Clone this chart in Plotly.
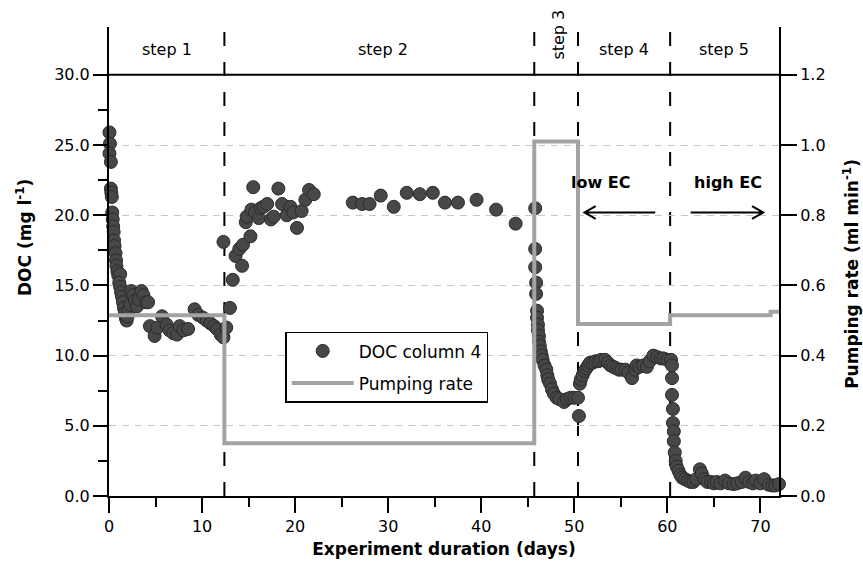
import plotly.graph_objects as go

# ---------------- data ----------------
doc_days = [
    # step 1
    0.05, 0.1, 0.05, 0.2, 0.2, 0.25, 0.3, 0.35, 0.4, 0.45, 0.5, 0.55, 0.6, 0.7, 0.75, 0.8, 0.9, 1.0, 1.2, 1.1,
    1.2, 1.3, 1.4, 1.5, 1.6, 1.7, 1.8, 1.9, 2.0, 2.1, 2.3, 2.4, 2.6, 2.8, 3.0, 3.2, 3.5, 3.7, 4.0, 4.2,
    4.4, 4.9, 5.2, 5.7, 6.2, 6.5, 6.9, 7.3, 7.6, 8.0, 8.5, 9.2, 9.6, 10.1, 10.5, 10.9, 11.3, 11.6, 12.0, 12.3, 12.6,
    # step 2
    12.3, 13.0, 13.3, 13.6, 14.0, 14.3, 14.4, 14.7, 14.8, 15.2, 15.3, 15.5, 15.7, 16.1, 16.3, 16.6, 17.0, 17.4,
    17.7, 18.2, 18.6, 19.1, 19.5, 19.8, 20.2, 20.7, 21.1, 21.5, 22.0,
    26.2, 27.2, 28.0, 29.2, 30.6, 32.0, 33.4, 34.8, 36.1, 37.5, 39.5, 41.6, 43.7, 45.8,
    # step 3
    45.8, 45.8, 45.9, 45.9, 46.0, 46.0, 46.1, 46.1, 46.2, 46.2, 46.3, 46.4, 46.5, 46.6, 46.8, 47.0, 47.1, 47.2,
    47.4, 47.6, 47.8, 48.1, 48.4, 48.9, 49.2, 49.6, 50.0, 50.4, 50.5,
    # step 4
    50.6, 50.7, 50.9, 51.1, 51.3, 51.5, 51.7, 52.0, 52.3, 52.6, 52.9, 53.3, 53.6, 53.9, 54.2, 54.5, 54.8, 55.1,
    55.5, 55.8, 56.2, 56.5, 56.7, 57.0, 57.4, 57.8, 58.1, 58.5, 58.9, 59.3, 59.6, 60.0, 60.4,
    # step 5
    60.5, 60.5, 60.5, 60.6, 60.6, 60.7, 60.7, 60.8, 60.9, 61.0, 61.2, 61.4, 61.6, 61.9, 62.2, 62.5, 62.8, 63.1,
    63.5, 63.7, 64.0, 64.3, 64.7, 65.0, 65.3, 65.7, 66.2, 66.6, 67.1, 67.5, 68.0, 68.4, 68.8, 69.2, 69.5, 70.0,
    70.4, 70.9, 71.3, 71.6, 72.0,
]
doc_vals = [
    # step 1
    25.9, 25.1, 24.4, 23.8, 21.9, 21.6, 21.3, 20.2, 19.7, 19.2, 18.8, 18.2, 17.8, 17.3, 16.8, 16.4, 16.0, 15.7, 15.8, 15.2,
    14.9, 14.5, 14.2, 13.8, 13.4, 13.0, 12.7, 12.5, 12.8, 13.2, 13.6, 14.6, 14.3, 13.9, 13.5, 14.0, 14.6, 14.3, 13.8, 13.8,
    12.1, 11.4, 12.0, 12.8, 12.2, 11.8, 11.6, 11.5, 12.1, 11.8, 11.9, 13.3, 12.9, 12.7, 12.5, 12.3, 12.1, 11.9, 11.5, 11.3, 12.0,
    # step 2
    18.1, 13.4, 15.4, 17.1, 17.6, 16.4, 17.9, 19.5, 19.9, 18.5, 20.4, 22.0, 20.2, 19.8, 20.5, 20.6, 20.8, 19.7,
    19.9, 21.9, 20.8, 20.0, 20.6, 20.2, 19.1, 20.3, 21.1, 21.8, 21.5,
    20.9, 20.8, 20.8, 21.4, 20.6, 21.6, 21.5, 21.6, 20.9, 20.9, 21.1, 20.4, 19.4, 20.5,
    # step 3
    17.6, 16.3, 15.2, 14.4, 13.2, 12.7, 12.2, 11.8, 11.4, 11.0, 10.7, 10.3, 10.0, 9.7, 9.3, 9.0, 8.6, 8.3,
    8.0, 7.6, 7.3, 7.0, 6.9, 6.7, 6.9, 7.0, 7.0, 7.0, 5.7,
    # step 4
    8.0, 8.3, 8.6, 8.9, 9.1, 9.3, 9.5, 9.5, 9.6, 9.6, 9.7, 9.7, 9.5, 9.3, 9.2, 9.1, 9.0, 9.0,
    9.0, 8.8, 8.4, 9.0, 9.3, 9.2, 9.3, 9.2, 9.6, 10.0, 9.9, 9.8, 9.8, 9.7, 9.7,
    # step 5
    9.3, 8.4, 7.2, 6.2, 5.2, 4.6, 3.9, 3.1, 2.5, 2.1, 1.8, 1.5, 1.3, 1.2, 1.1, 1.0, 1.0, 1.2,
    1.9, 1.6, 1.2, 1.0, 1.0, 0.9, 1.0, 0.9, 1.1, 0.9, 0.85, 0.9, 1.0, 1.3, 1.0, 0.9, 1.1, 0.9,
    1.2, 0.8, 0.75, 0.75, 0.85,
]

pump_days = [0, 12.4, 45.7, 50.4, 60.3, 71.1, 72.0]
pump_rate = [0.515, 0.15, 1.01, 0.49, 0.515, 0.525, 0.525]

step_bounds = [12.4, 45.7, 50.4, 60.3]
step_labels = ["step 1", "step 2", "step 3", "step 4", "step 5"]
step_label_x = [6.2, 29.4, 48.3, 55.3, 66.1]

x_ticks = [0, 10, 20, 30, 40, 50, 60, 70]
x_minor = [5, 15, 25, 35, 45, 55, 65]
y_ticks = [0, 5, 10, 15, 20, 25, 30]
y_minor = [2.5, 7.5, 12.5, 17.5, 22.5, 27.5]
y2_ticks = [0, 0.2, 0.4, 0.6, 0.8, 1.0, 1.2]

FONT = "DejaVu Sans"

fig = go.Figure()
fig.add_trace(go.Scatter(
    x=doc_days, y=doc_vals, mode="markers", name="DOC column 4",
    legendgroup="a",
    marker=dict(size=13, color="#474747", line=dict(color="#2b2b2b", width=1)),
    cliponaxis=False,
))
fig.add_trace(go.Scatter(
    x=pump_days, y=pump_rate, mode="lines", name="Pumping rate", yaxis="y2",
    legendgroup="b",
    line=dict(color="#a3a3a3", width=4, shape="hv"),
))

shapes = []
for b in step_bounds:
    shapes.append(dict(type="line", xref="x", yref="paper", x0=b, x1=b, y0=0, y1=1,
                       line=dict(color="black", width=2, dash="14px,16px"), layer="between"))
shapes.append(dict(type="line", xref="paper", yref="y", x0=0, x1=1, y0=30, y1=30,
                   line=dict(color="black", width=2), layer="above"))

# EC direction arrows (line + open head), in data units
arrow_y = 20.2
hx, hy = 1.2, 0.45  # head length (days) and half-height (mg/l)
left_tail, left_head = 58.7, 51.1
right_tail, right_head = 62.5, 70.3
shapes.append(dict(type="path", xref="x", yref="y",
                   path=(f"M{left_tail},{arrow_y} L{left_head},{arrow_y} "
                         f"M{left_head + hx},{arrow_y + hy} L{left_head},{arrow_y} L{left_head + hx},{arrow_y - hy}"),
                   line=dict(color="black", width=2), layer="above"))
shapes.append(dict(type="path", xref="x", yref="y",
                   path=(f"M{right_tail},{arrow_y} L{right_head},{arrow_y} "
                         f"M{right_head - hx},{arrow_y + hy} L{right_head},{arrow_y} L{right_head - hx},{arrow_y - hy}"),
                   line=dict(color="black", width=2), layer="above"))

annotations = []
for lab, lx in zip(step_labels, step_label_x):
    if lab == "step 3":
        annotations.append(dict(x=lx, y=32.9, xref="x", yref="y", text=lab, showarrow=False,
                                textangle=-90, font=dict(family=FONT, size=16, color="black")))
    else:
        annotations.append(dict(x=lx, y=31.8, xref="x", yref="y", text=lab, showarrow=False,
                                font=dict(family=FONT, size=16, color="black")))

annotations.append(dict(x=52.9, y=22.3, xref="x", yref="y", text="<b>low EC</b>", showarrow=False,
                        font=dict(family=FONT, size=16, color="black")))
annotations.append(dict(x=66.5, y=22.3, xref="x", yref="y", text="<b>high EC</b>", showarrow=False,
                        font=dict(family=FONT, size=16, color="black")))

annotations.append(dict(x=-0.127, y=0.552, xref="paper", yref="paper", text="<b>DOC (mg l<sup>-1</sup>)</b>",
                        xanchor="center", yanchor="middle",
                        showarrow=False, textangle=-90, font=dict(family=FONT, size=17, color="black")))
annotations.append(dict(x=1.107, y=0.473, xref="paper", yref="paper",
                        text="<b>Pumping rate (ml min<sup>-1</sup>)</b>", xanchor="center", yanchor="middle",
                        showarrow=False, textangle=-90, font=dict(family=FONT, size=17, color="black")))

fig.update_layout(
    width=863, height=575,
    margin=dict(l=109, r=84, t=27, b=79),
    paper_bgcolor="white", plot_bgcolor="white",
    font=dict(family=FONT, size=16, color="black"),
    shapes=shapes, annotations=annotations,
    showlegend=True,
    legend=dict(x=0.263, y=0.35, xanchor="left", yanchor="top",
                bordercolor="black", borderwidth=1.5, bgcolor="white",
                font=dict(family=FONT, size=17), itemwidth=62,
                tracegroupgap=7, traceorder="grouped"),
    xaxis=dict(range=[0, 72], tickvals=x_ticks, ticks="outside", ticklen=15, tickwidth=1.5,
               tickcolor="black", showline=True, linecolor="black", linewidth=2,
               showgrid=False, zeroline=False,
               minor=dict(tickvals=x_minor, ticks="outside", ticklen=9, tickwidth=1.5,
                          tickcolor="black", showgrid=False),
               title=dict(text="<b>Experiment duration (days)</b>", font=dict(family=FONT, size=17),
                          standoff=8)),
    yaxis=dict(range=[0, 33.41], tickvals=y_ticks, tickformat=".1f", ticks="outside", ticklen=14,
               tickwidth=1.5, tickcolor="black", showline=True, linecolor="black", linewidth=2,
               showgrid=True, gridcolor="#c8c8c8", griddash="7px,6px", gridwidth=1.2, zeroline=False,
               minor=dict(tickvals=y_minor, ticks="outside", ticklen=9, tickwidth=1.5,
                          tickcolor="black", showgrid=False)),
    yaxis2=dict(range=[0, 1.3364], tickvals=y2_ticks, tickformat=".1f", overlaying="y", side="right",
                ticks="outside", ticklen=16, tickwidth=1.5, tickcolor="black", showline=True,
                linecolor="black", linewidth=2, showgrid=False, zeroline=False),
)

fig.write_html("out.html")
